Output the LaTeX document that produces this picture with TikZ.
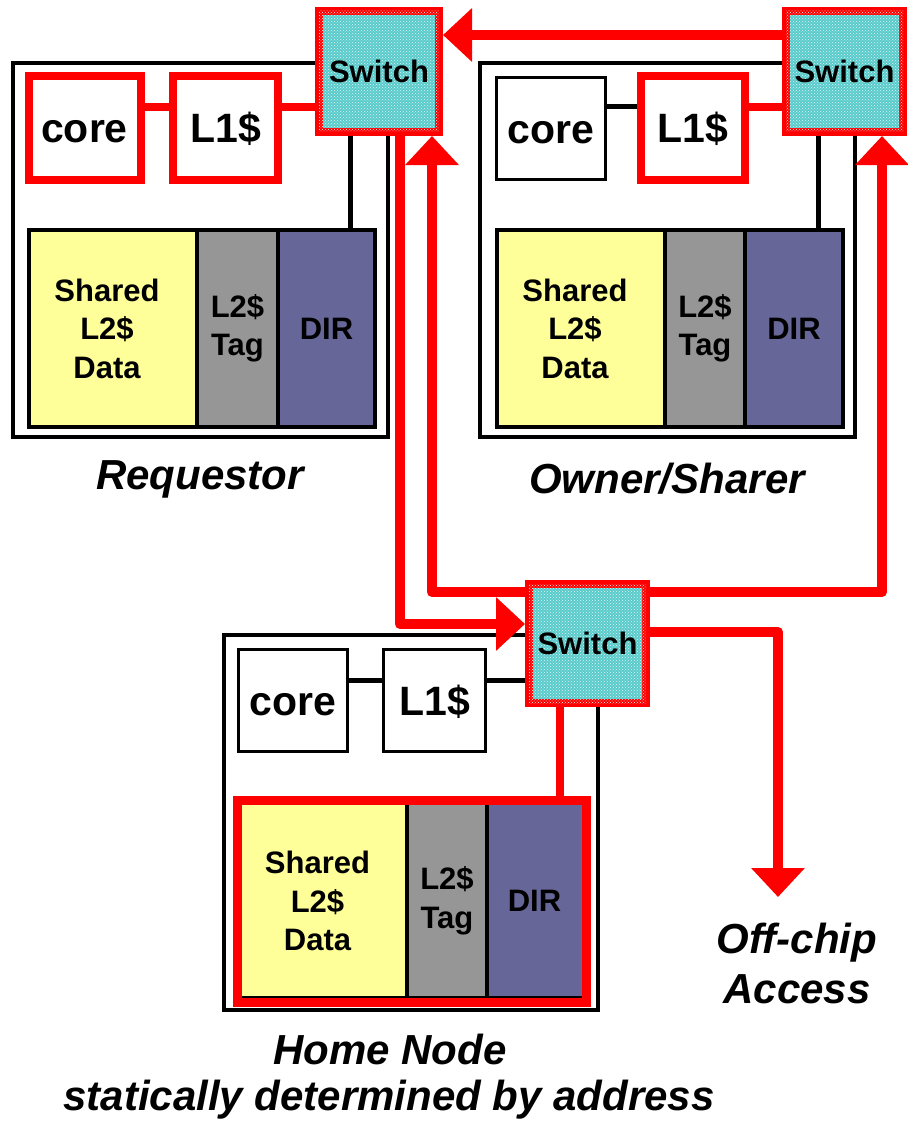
\documentclass[tikz,border=0pt]{standalone}
\usepackage{fontspec}
\setmainfont{Liberation Sans}
\usetikzlibrary{arrows.meta,patterns}
\definecolor{swfill}{RGB}{90,203,203}
\definecolor{l2yellow}{RGB}{255,255,153}
\definecolor{l2gray}{RGB}{150,150,150}
\definecolor{dirblue}{RGB}{102,102,153}
\definecolor{myred}{RGB}{255,0,0}
\tikzset{
  outerbox/.style={draw=black, line width=4pt, fill=white, inner sep=0pt},
  boxtext/.style={inner sep=0pt, text height=29pt, text depth=0pt,
     font=\bfseries\fontsize{41}{41}\selectfont},
  redbox/.style={boxtext, draw=myred, line width=8pt, fill=white},
  blkbox/.style={boxtext, draw=black, line width=3.5pt, fill=white},
  swbox/.style={draw=myred, line width=8pt, fill=swfill, inner sep=0pt,
     text height=22pt, text depth=0pt,
     postaction={pattern=crosshatch dots, pattern color=white!80!swfill},
     font=\bfseries\fontsize{31}{31}\selectfont},
  secttext/.style={align=center, inner sep=0pt,
     font=\bfseries\fontsize{31}{38.5}\selectfont},
  sect/.style={secttext, draw=black, line width=3.5pt},
  ysect/.style={sect, fill=l2yellow},
  gsect/.style={sect, fill=l2gray},
  dsect/.style={sect, fill=dirblue},
  hsect/.style={secttext},
  ytext/.style={secttext, xshift=-6pt},
  redline/.style={draw=myred, line width=8pt},
  blkline/.style={draw=black, line width=5pt},
  sepline/.style={draw=black, line width=3.5pt},
  redarrow/.style={draw=myred, line width=10pt, line join=round,
     -{Triangle[length=29pt,width=52pt]}},
  lab/.style={inner sep=0pt, align=center,
     font=\bfseries\itshape\fontsize{42}{50}\selectfont}
}
\begin{document}
\begin{tikzpicture}[x=1pt,y=-1pt]
\useasboundingbox (0,0) rectangle (907,1121);
% helper coordinates
\coordinate (yA) at (0,107);
\coordinate (yH) at (0,680);
\coordinate (yT) at (0,35);
\coordinate (y624) at (0,624);
\coordinate (y592) at (0,592);
\coordinate (y632) at (0,632);
\coordinate (x350) at (350,0);
\coordinate (x818) at (818,0);
\coordinate (x560) at (560,0);
\coordinate (x400) at (400,0);
\coordinate (x432) at (432,0);
\coordinate (x882) at (882,0);
\coordinate (x778) at (778,0);
\coordinate (offtip) at (778,897);

% ---------- Requestor ----------
\node[outerbox, minimum width=375pt, minimum height=374pt] (reqbox) at (200.5,250) {};
\node[ysect, minimum width=168pt, minimum height=197pt,
      label={[ytext]center:{Shared\\L2\$\\Data}}] (reqY) at (113,328.5) {};
\node[gsect, minimum width=81pt, minimum height=197pt] (reqG) at (237.5,328.5) {L2\$\\Tag};
\node[dsect, minimum width=97pt, minimum height=197pt] (reqD) at (326.5,328.5) {DIR};
\node[redbox, minimum width=112pt, minimum height=104pt] (reqcore) at (84.5,128) {core};
\node[redbox, minimum width=105pt, minimum height=104pt] (reql1) at (225.5,128) {L1\$};

% ---------- Owner/Sharer ----------
\node[outerbox, minimum width=375pt, minimum height=374pt] (ownbox) at (667.5,250) {};
\node[ysect, minimum width=168pt, minimum height=197pt,
      label={[ytext]center:{Shared\\L2\$\\Data}}] (ownY) at (581,328.5) {};
\node[gsect, minimum width=80pt, minimum height=197pt] (ownG) at (705,328.5) {L2\$\\Tag};
\node[dsect, minimum width=98pt, minimum height=197pt] (ownD) at (794,328.5) {DIR};
\node[blkbox, minimum width=109pt, minimum height=102pt] (owncore) at (551,128.5) {core};
\node[redbox, minimum width=104pt, minimum height=104pt] (ownl1) at (693,128) {L1\$};

% ---------- Home Node ----------
\node[outerbox, minimum width=374pt, minimum height=375pt] (homebox) at (411,822.5) {};
\node[hsect, fill=l2yellow, minimum width=165pt, minimum height=194pt,
      label={[ytext, xshift=-1pt]center:{Shared\\L2\$\\Data}}] (homeY) at (324.5,901) {};
\node[hsect, fill=l2gray, minimum width=80pt, minimum height=194pt] (homeG) at (447,901) {L2\$\\Tag};
\node[hsect, fill=dirblue, minimum width=95pt, minimum height=194pt] (homeD) at (534.5,901) {DIR};
\draw[sepline] (homeY.north east) -- (homeY.south east);
\draw[sepline] (homeG.north east) -- (homeG.south east);
\draw[sepline] (homeY.south west) -- (homeD.south east);
\node[draw=myred, line width=9pt, inner sep=0pt,
      minimum width=349pt, minimum height=202pt] (homered) at (412,901.5) {};
\node[blkbox, minimum width=109pt, minimum height=102pt] (homecore) at (293,700.5) {core};
\node[blkbox, minimum width=102pt, minimum height=102pt] (homel1) at (434.5,700.5) {L1\$};

% ---------- local connectors ----------
\draw[redline] (reqcore.east |- yA) -- (reql1.west |- yA);
\draw[blkline] (owncore.east |- yA) -- (ownl1.west |- yA);
\draw[blkline] (homecore.east |- yH) -- (homel1.west |- yH);

% ---------- switches ----------
\path (379,71.5) coordinate (reqswc) (844.5,71.5) coordinate (ownswc) (587.5,643.5) coordinate (homeswc);
\node[swbox, minimum width=120pt, minimum height=121pt] (reqsw) at (reqswc) {Switch};
\node[swbox, minimum width=117pt, minimum height=121pt] (ownsw) at (ownswc) {Switch};

\draw[redline] (reql1.east |- yA) -- (reqsw.west |- yA);
\draw[redline] (ownl1.east |- yA) -- (ownsw.west |- yA);
\draw[blkline] (reqsw.south -| x350) -- (reqD.north -| x350);
\draw[blkline] (ownsw.south -| x818) -- (ownD.north -| x818);

% ---------- network arrows ----------
\node[swbox, minimum width=117pt, minimum height=119pt] (homesw) at (homeswc) {Switch};
\draw[blkline] (homel1.east |- yH) -- (homesw.west |- yH);
\draw[redline] (homesw.south -| x560) -- (homered.north -| x560);
\draw[redarrow] (ownsw.west |- yT) -- (reqsw.east |- yT);
\draw[redarrow] (reqsw.south -| x400) -- (x400 |- y624) -- (homesw.west |- y624);
\draw[redarrow] (homesw.west |- y592) -- (x432 |- y592) -- (reqsw.south -| x432);
\draw[redarrow] (homesw.east |- y592) -- (x882 |- y592) -- (ownsw.south -| x882);
\draw[redarrow] (homesw.east |- y632) -- (x778 |- y632) -- (offtip);
% home switch drawn again on top of the lines that run behind it
\node[swbox, minimum width=117pt, minimum height=119pt] (homesw2) at (homeswc) {Switch};

% ---------- labels ----------
\node[lab] (reqlab) at (200,479) {Requestor};
\node[lab] (ownlab) at (667,479) {Owner/Sharer};
\node[lab] (offlab) at (797,963) {Off-chip\\Access};
\node[lab] (homelab) at (390,1049) {Home Node};
\node[lab] (homelab2) at (389,1100) {statically determined by address};
\end{tikzpicture}
\end{document}
